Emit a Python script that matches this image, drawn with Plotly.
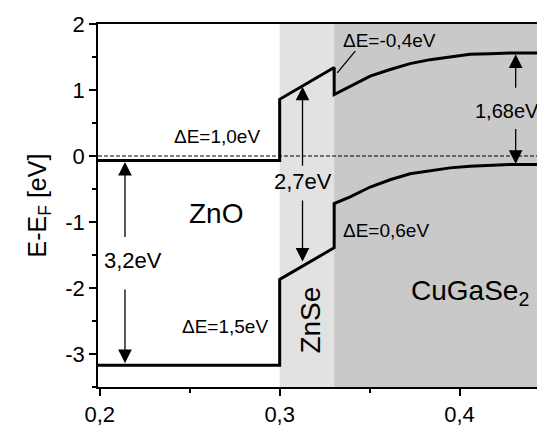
import plotly.graph_objects as go

# ---- data ----
cb_x = [0.199, 0.3, 0.3, 0.3303, 0.3303, 0.3392, 0.3503, 0.3614, 0.3725, 0.3836, 0.3947, 0.4058, 0.4169, 0.428, 0.45]
cb_y = [-0.07, -0.07, 0.86, 1.34, 0.93, 1.06, 1.21, 1.31, 1.40, 1.46, 1.50, 1.54, 1.55, 1.56, 1.56]
vb_x = [0.199, 0.3, 0.3, 0.3303, 0.3303, 0.3392, 0.3503, 0.3614, 0.3725, 0.3836, 0.3947, 0.4058, 0.4169, 0.428, 0.45]
vb_y = [-3.17, -3.17, -1.87, -1.39, -0.72, -0.62, -0.47, -0.36, -0.27, -0.22, -0.18, -0.155, -0.14, -0.13, -0.13]
fermi_x = [0.199, 0.45]
fermi_y = [0.0, 0.0]

# layer regions (x from, x to)
znse_region = [0.3, 0.3303]
cgs_region = [0.3303, 0.45]

# gap arrows: x, tail y, tip y
arrows = [
    (0.214, -1.25, -0.09), (0.214, -2.0, -3.14),
    (0.3127, -0.17, 1.05), (0.3127, -0.65, -1.60),
    (0.4312, 1.01, 1.54), (0.4312, 0.43, -0.12),
]
# leader line for the CB offset label
leader_x = [0.342, 0.332]
leader_y = [1.59, 1.26]

# text labels: text, x, y, size, angle
labels = [
    ("ΔE=1,0eV", 0.265, 0.30, 19, 0),
    ("ΔE=1,5eV", 0.2694, -2.58, 19, 0),
    ("ΔE=0,6eV", 0.359, -1.13, 19, 0),
    ("ΔE=-0,4eV", 0.361, 1.75, 19, 0),
    ("3,2eV", 0.2186, -1.58, 22, 0),
    ("2,7eV", 0.3128, -0.39, 22, 0),
    ("1,68eV", 0.4264, 0.68, 20, 0),
    ("ZnO", 0.2644, -0.87, 28, 0),
    ("CuGaSe<sub>2</sub>", 0.4058, -2.07, 28, 0),
    ("ZnSe", 0.317, -2.49, 28, -90),
]

x_ticks = [0.2, 0.3, 0.4]
x_ticktext = ["0,2", "0,3", "0,4"]
y_ticks = [-3, -2, -1, 0, 1, 2]
y_ticktext = ["-3", "-2", "-1", "0", "1", "2"]

FONT = "Arial, Liberation Sans, sans-serif"

fig = go.Figure()

fig.add_trace(go.Scatter(x=fermi_x, y=fermi_y, mode="lines",
                         line=dict(color="black", width=1, dash="4px,2px"),
                         hoverinfo="skip", showlegend=False))
fig.add_trace(go.Scatter(x=cb_x, y=cb_y, mode="lines",
                         line=dict(color="black", width=3),
                         showlegend=False))
fig.add_trace(go.Scatter(x=vb_x, y=vb_y, mode="lines",
                         line=dict(color="black", width=3),
                         showlegend=False))
fig.add_trace(go.Scatter(x=leader_x, y=leader_y, mode="lines",
                         line=dict(color="black", width=1.3),
                         showlegend=False))

shapes = [
    dict(type="rect", xref="x", yref="paper", x0=znse_region[0], x1=znse_region[1],
         y0=0, y1=1, fillcolor="#e2e2e2", line=dict(width=0), layer="below"),
    dict(type="rect", xref="x", yref="paper", x0=cgs_region[0], x1=cgs_region[1],
         y0=0, y1=1, fillcolor="#c9c9c9", line=dict(width=0), layer="below"),
]

annotations = []
for ax_x, tail, tip in arrows:
    annotations.append(dict(x=ax_x, y=tip, ax=ax_x, ay=tail, xref="x", yref="y",
                            axref="x", ayref="y", text="", showarrow=True,
                            arrowhead=2, arrowsize=2.1, arrowwidth=1.3,
                            arrowcolor="black", standoff=0))
for txt, lx, ly, size, ang in labels:
    annotations.append(dict(x=lx, y=ly, xref="x", yref="y", text=txt,
                            showarrow=False, textangle=ang,
                            font=dict(family=FONT, size=size, color="black"),
                            xanchor="center", yanchor="middle"))

# page body adds an 8px offset, so the figure is 8px smaller and margins shifted
fig.update_layout(
    width=537, height=419,
    margin=dict(l=90, r=0, t=16, b=40, autoexpand=False),
    paper_bgcolor="white", plot_bgcolor="white",
    shapes=shapes, annotations=annotations,
    font=dict(family=FONT, color="black"),
    showlegend=False,
)
fig.update_xaxes(range=[0.199, 0.4475], showgrid=False, zeroline=False, automargin=False,
                 showline=True, linecolor="black", linewidth=1.5, mirror=True,
                 ticks="outside", ticklen=7, tickwidth=1.5, tickcolor="black",
                 tickvals=x_ticks, ticktext=x_ticktext,
                 tickfont=dict(family=FONT, size=22, color="black"),
                 minor=dict(dtick=0.05, ticks="outside", ticklen=4, tickwidth=1.5, tickcolor="black"))
fig.update_yaxes(range=[-3.5, 2], showgrid=False, zeroline=False, automargin=False,
                 showline=True, linecolor="black", linewidth=1.5, mirror=False,
                 ticks="outside", ticklen=7, tickwidth=1.5, tickcolor="black",
                 tickvals=y_ticks, ticktext=y_ticktext,
                 tickfont=dict(family=FONT, size=22, color="black"),
                 minor=dict(dtick=0.5, ticks="outside", ticklen=4, tickwidth=1.5, tickcolor="black"),
                 title=dict(text="E-E<sub>F</sub> [eV]", standoff=12,
                            font=dict(family=FONT, size=25, color="black")))

fig.write_html("out.html")
